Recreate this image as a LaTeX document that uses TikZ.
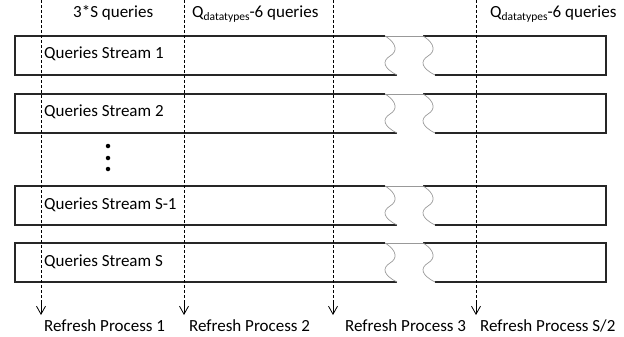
\documentclass[tikz,border=0pt]{standalone}
\usepackage{fontspec}
\setmainfont{Carlito}
\usetikzlibrary{arrows.meta}
\begin{document}
\begin{tikzpicture}[x=1pt,y=-1pt,
  barline/.style={line width=1.2pt,draw=black!85},
  waveline/.style={line width=0.7pt,draw=black!40},
  timeline/.style={line width=0.8pt,dash pattern=on 3pt off 2pt},
  tipline/.style={line width=0.8pt,-{Straight Barb[length=8pt,width=9pt,line width=0.8pt]}},
  lbl/.style={anchor=base west,inner sep=0pt,font=\fontsize{17}{20}\selectfont},
  dotn/.style={circle,fill=black,inner sep=0pt,minimum size=4.5pt}]
\useasboundingbox (0,0) rectangle (624,337);
% bars
\foreach \t/\n/\txt in {36/1/{Queries Stream 1},94/2/{Queries Stream 2},186/3/{Queries Stream S-1},243/4/{Queries Stream S}}{
  \pgfmathsetmacro{\b}{\t+39}
  \draw[barline] (385,\t) -- (15,\t) -- (15,\b) -- (397,\b);
  \draw[barline] (423,\t) -- (606,\t) -- (606,\b) -- (435,\b);
  \draw[waveline] (385,\t) -- (423,\t);
  \draw[waveline] (385,\t) .. controls (398,\t+8) and (397,\t+16) .. (390,\t+20) .. controls (382,\t+25) and (383,\t+32) .. (397,\b);
  \draw[waveline] (423,\t) .. controls (436,\t+8) and (435,\t+16) .. (428,\t+20) .. controls (420,\t+25) and (421,\t+32) .. (435,\b);
  \node[lbl] (s\n) at (44,\t+23) {\txt};
}
% dots
\node[dotn] (d1) at (108,146) {};
\node[dotn] (d2) at (108,158) {};
\node[dotn] (d3) at (108,169) {};
% timelines
\foreach \x/\n in {41/1,184/2,333/3,476/4}{
  \coordinate (t\n) at (\x,0);
  \coordinate (m\n) at (\x,303);
  \coordinate (a\n) at (\x,315);
  \draw[timeline] (t\n) -- (m\n);
  \draw[tipline] (m\n) -- (a\n);
}
% top labels
\node[lbl] (h1) at (73,17.5) {3*S queries};
\node[lbl] (h2) at (192,17.5) {Q\raisebox{-3.5pt}{\fontsize{11.5}{12}\selectfont datatypes}-6 queries};
\node[lbl] (h3) at (490,17.5) {Q\raisebox{-3.5pt}{\fontsize{11.5}{12}\selectfont datatypes}-6 queries};
% bottom labels
\node[lbl] (r1) at (44,331) {Refresh Process 1};
\node[lbl] (r2) at (189,331) {Refresh Process 2};
\node[lbl] (r3) at (345,331) {Refresh Process 3};
\node[lbl] (r4) at (480,331) {Refresh Process S/2};
\end{tikzpicture}
\end{document}
